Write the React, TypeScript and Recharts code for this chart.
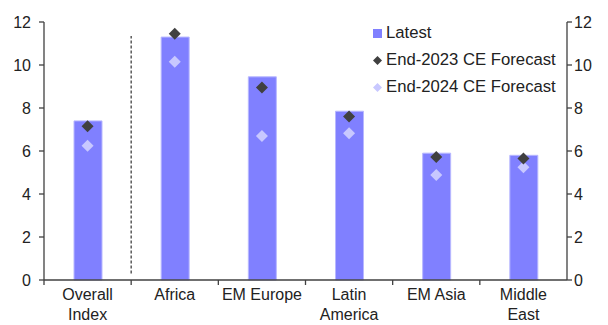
import React from 'react';
import { ComposedChart, Bar, Line, XAxis, YAxis, ReferenceLine } from 'recharts';

const categories = ['Overall Index', 'Africa', 'EM Europe', 'Latin America', 'EM Asia', 'Middle East'];
const tickLines = [['Overall', 'Index'], ['Africa'], ['EM Europe'], ['Latin', 'America'], ['EM Asia'], ['Middle', 'East']];
const latest = [7.4, 11.3, 9.45, 7.85, 5.9, 5.8];
const end2023 = [7.15, 11.45, 8.95, 7.6, 5.72, 5.65];
const end2024 = [6.25, 10.15, 6.7, 6.82, 4.88, 5.25];
const yTicks = [0, 2, 4, 6, 8, 10, 12];

const data = categories.map((c, i) => ({
  name: c,
  latest: latest[i],
  end2023: end2023[i],
  end2024: end2024[i],
}));

const FONT = '"Liberation Sans", Arial, sans-serif';
const AXIS = '#404040';

const diamond = (fill: string) => (props: any) => {
  const { cx, cy, index } = props;
  if (cx == null || cy == null) return <g key={index} />;
  const r = 6;
  return (
    <polygon
      key={index}
      points={`${cx},${cy - r} ${cx + r},${cy} ${cx},${cy + r} ${cx - r},${cy}`}
      fill={fill}
    />
  );
};

const CategoryTick = (props: any) => {
  const { x, y, payload, index } = props;
  const off = payload.offset ?? 43.6;
  const lines = tickLines[index] || [payload.value];
  const axisY = y - 7;
  return (
    <g>
      <line x1={x - off} x2={x - off} y1={axisY} y2={axisY + 5} stroke={AXIS} strokeWidth={1.3} />
      <text x={x} y={y + 13} textAnchor="middle" fill="#222" fontSize={16} fontFamily={FONT}>
        {lines.map((l: string, i: number) => (
          <tspan key={i} x={x} dy={i === 0 ? 0 : 20}>{l}</tspan>
        ))}
      </text>
    </g>
  );
};

const LegendBox = () => {
  const rows = [
    { label: 'Latest', kind: 'square', color: '#8080ff' },
    { label: 'End-2023 CE Forecast', kind: 'diamond', color: '#404040' },
    { label: 'End-2024 CE Forecast', kind: 'diamond', color: '#c8c8ff' },
  ];
  return (
    <div style={{ position: 'absolute', left: 372, top: 19, fontFamily: FONT, fontSize: 16.7, color: '#222' }}>
      {rows.map((r) => (
        <div key={r.label} style={{ display: 'flex', alignItems: 'center', height: 27 }}>
          <svg width={14} height={12}>
            {r.kind === 'square' ? (
              <rect x={1} y={2} width={9} height={9} fill={r.color} />
            ) : (
              <polygon points="5.5,2 10,6.5 5.5,11 1,6.5" fill={r.color} />
            )}
          </svg>
          <span>{r.label}</span>
        </div>
      ))}
    </div>
  );
};

const App = () => {
  return (
    <div style={{ position: 'absolute', left: 0, top: 0, width: 608, height: 325, background: '#fff' }}>
      <ComposedChart width={608} height={325} data={data} margin={{ top: 22, right: 0, left: 0, bottom: 0 }}>
        <XAxis
          dataKey="name"
          stroke={AXIS}
          strokeWidth={1.3}
          tickLine={false}
          tickSize={5}
          tickMargin={2}
          height={45}
          interval={0}
          tick={<CategoryTick />}
        />
        <YAxis
          yAxisId="left"
          domain={[0, 12]}
          ticks={yTicks}
          width={44}
          stroke={AXIS}
          strokeWidth={1.3}
          tickSize={5}
          tickMargin={8}
          tick={{ fill: '#222', fontSize: 16, fontFamily: FONT }}
        />
        <YAxis
          yAxisId="right"
          orientation="right"
          domain={[0, 12]}
          ticks={yTicks}
          width={41}
          stroke={AXIS}
          strokeWidth={1.3}
          tickSize={5}
          tickMargin={2}
          tick={{ fill: '#222', fontSize: 16, fontFamily: FONT, textAnchor: 'start' }}
          allowDataOverflow
        />
        <ReferenceLine
          yAxisId="left"
          segment={[{ x: 'Africa', y: 0.3 }, { x: 'Africa', y: 11.35 }]}
          position="start"
          stroke={AXIS}
          strokeWidth={1.3}
          strokeDasharray="3 2"
        />
        <Bar yAxisId="left" dataKey="latest" fill="#8080ff" stroke="#b8b8ff" strokeWidth={1} barSize={28} isAnimationActive={false} />
        <Line yAxisId="right" dataKey="latest" stroke="none" dot={false} activeDot={false} isAnimationActive={false} legendType="none" />
        <Line yAxisId="left" dataKey="end2024" stroke="none" dot={diamond('#c8c8ff')} activeDot={false} isAnimationActive={false} />
        <Line yAxisId="left" dataKey="end2023" stroke="none" dot={diamond('#404040')} activeDot={false} isAnimationActive={false} />
      </ComposedChart>
      <LegendBox />
    </div>
  );
};

export default App;
